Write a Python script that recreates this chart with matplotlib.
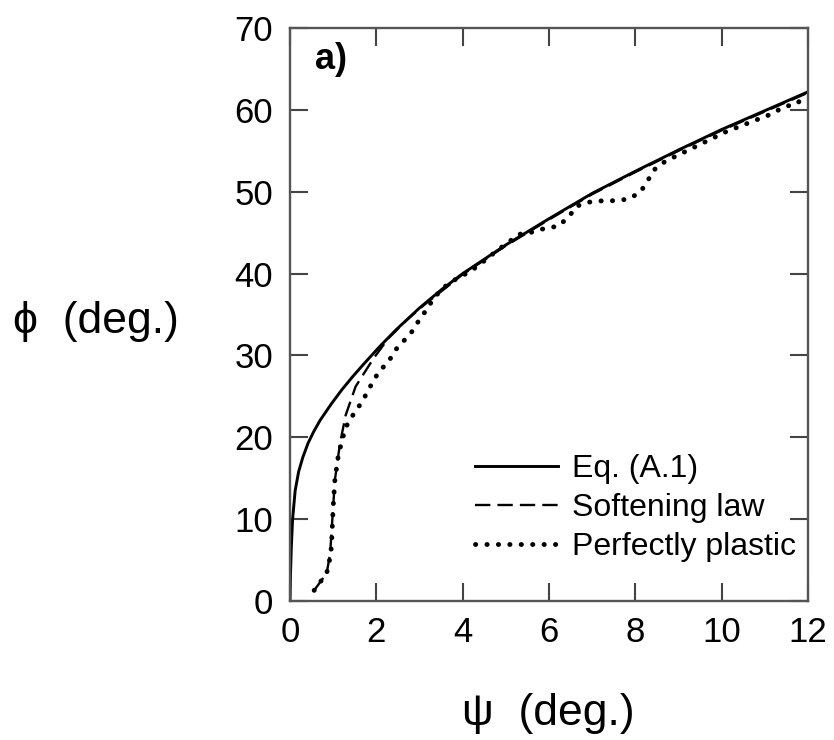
import matplotlib
matplotlib.use('Agg')
import matplotlib.pyplot as plt

plt.rcParams['font.family'] = ['Liberation Sans', 'DejaVu Sans']

# ─── data (psi deg, phi deg) ─────────────────────────────────
eq_x = [0, 0.01, 0.03, 0.06, 0.12, 0.2, 0.3, 0.42, 0.55, 0.7, 0.96, 1.2, 1.45, 1.7, 2.08, 2.47, 3, 3.5, 4, 5, 6, 7, 8, 9, 10, 11, 12]
eq_y = [0, 3, 6.5, 10, 13.5, 15.8, 17.6, 19.3, 20.7, 22.1, 24.1, 25.8, 27.4, 28.9, 31.1, 33.2, 35.8, 38, 40, 43.5, 46.7, 49.8, 52.5, 55.1, 57.6, 59.9, 62.2]

soft_x = [0.56, 0.85, 0.93, 0.98, 1.04, 1.16, 1.29, 1.52, 1.93, 2.28, 2.7, 3.09, 4, 5, 6, 7, 8, 9, 10, 11, 12]
soft_y = [1.3, 3.4, 5.8, 9.9, 14.8, 19.3, 22.7, 26.2, 29.6, 32.1, 34.3, 36.1, 39.9, 43.4, 46.6, 49.7, 52.4, 55.0, 57.5, 59.8, 62.1]

pp_x = [0.56, 0.85, 0.91, 0.96, 1.0, 1.04, 1.12, 1.2, 1.29, 1.43, 1.6, 1.76, 1.91, 2.07, 2.28, 2.43, 2.64, 2.84,
        3.0, 3.18, 3.34, 3.67, 4.08, 4.32, 4.82, 5.31, 5.56, 5.89, 6.22, 6.47, 6.63, 6.88, 7.25, 7.54,
        7.83, 8.11, 8.28, 8.44, 8.69, 9.43, 10.09, 10.67, 11.16, 11.45, 11.74, 11.94]
pp_y = [1.3, 3.4, 4.8, 6.6, 11.5, 14.8, 17.8, 19.5, 21.2, 22.5, 23.8, 25.2, 26.7, 28.1, 29.2, 30.6, 31.8, 33,
        34.4, 35.7, 37.1, 38.8, 40, 40.8, 42.9, 44.8, 45, 45.5, 45.8, 47, 48.2, 48.7, 48.9, 48.9,
        49.1, 49.9, 51.3, 52.7, 53.7, 55.6, 57.3, 58.5, 59.5, 60.4, 60.7, 61.9]

labels = ['Eq. (A.1)', 'Softening law', 'Perfectly plastic']
xticks = [0, 2, 4, 6, 8, 10, 12]
yticks = [0, 10, 20, 30, 40, 50, 60, 70]

fig = plt.figure(figsize=(8.34, 7.4), dpi=100)
ax = fig.add_axes([290 / 834, 1 - 601 / 740, 518 / 834, 573 / 740])

ax.plot(pp_x, pp_y, color='black', lw=3.5, dashes=(0.05, 2.3),
        dash_capstyle='round', label=labels[2])
ax.plot(soft_x, soft_y, color='black', lw=1.7, dashes=(6.5, 3), label=labels[1])
ax.plot(eq_x, eq_y, color='black', lw=2.1, label=labels[0])

ax.set_xlim(0, 12)
ax.set_ylim(0, 70)
ax.set_xticks(xticks)
ax.set_yticks(yticks)
ax.tick_params(direction='in', length=13, width=1.5, color='#444444',
               labelsize=25, top=True, right=True)
ax.tick_params(axis='y', pad=12)
ax.tick_params(axis='x', pad=11)
for s in ax.spines.values():
    s.set_linewidth(1.7)
    s.set_color('#555555')

ax.text(0.048, 0.976, 'a)', transform=ax.transAxes, fontsize=26,
        fontweight='bold', va='top', ha='left')

h, l = ax.get_legend_handles_labels()
order = [2, 1, 0]
ax.legend([h[i] for i in order], [l[i] for i in order], loc='lower right',
          bbox_to_anchor=(0.977, 0.068), frameon=False, fontsize=23,
          handlelength=2.6, handletextpad=0.45, labelspacing=0.28,
          borderpad=0, borderaxespad=0)

fig.text(13 / 834, 1 - 322 / 740, '\u03d5  (deg.)', fontsize=32, va='center', ha='left')
fig.text(548 / 834, 1 - 714 / 740, '\u03c8  (deg.)', fontsize=32, va='center', ha='center')

fig.savefig('out.png', dpi=100)
